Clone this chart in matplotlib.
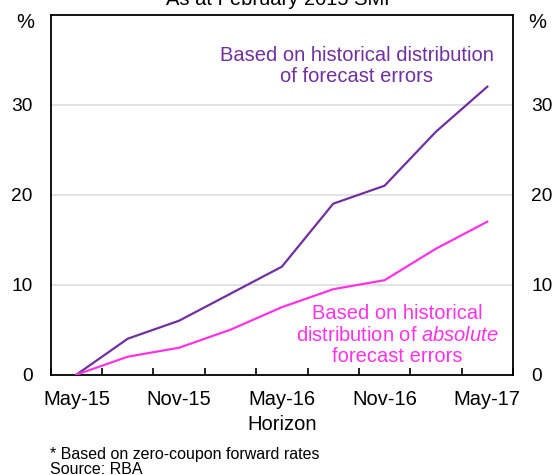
import numpy as np
import matplotlib.pyplot as plt

plt.rcParams['font.family'] = ['Liberation Sans', 'DejaVu Sans']
plt.rcParams['mathtext.fontset'] = 'custom'
plt.rcParams['mathtext.rm'] = 'Liberation Sans'
plt.rcParams['mathtext.it'] = 'Liberation Sans:italic'

# Data (quarterly horizon)
months = ['May-15', 'Aug-15', 'Nov-15', 'Feb-16', 'May-16', 'Aug-16', 'Nov-16', 'Feb-17', 'May-17']
forecast_err = [0, 4, 6, 9, 12, 19, 21, 27, 32]
abs_err = [0, 2, 3, 5, 7.5, 9.5, 10.5, 14, 17]
yticks = [0, 10, 20, 30]

purple = '#7030A0'
pink = '#FF33E6'
fs = 14.5

W, H = 557, 475
fig = plt.figure(figsize=(W / 100, H / 100), dpi=100)
ax = fig.add_axes([50.7 / W, 1 - 374.7 / H, (513 - 50.7) / W, 360 / H])

x = np.arange(len(months))
ax.plot(x, forecast_err, color=purple, lw=1.6, zorder=3)
ax.plot(x, abs_err, color=pink, lw=1.6, zorder=3)

ax.set_xlim(-0.5, len(months) - 0.5)
ax.set_ylim(0, 40)

# labels every other quarter, ticks at category boundaries
ax.set_xticks(x[::2])
ax.set_xticklabels(months[::2], fontsize=fs)
ax.set_xticks(np.arange(-0.5, len(months)), minor=True)
ax.tick_params(axis='x', which='major', length=0, pad=11)
ax.tick_params(axis='x', which='minor', direction='in', length=5, width=1.2)

ax.set_yticks(yticks)
ax.tick_params(axis='y', length=0, labelsize=13.8, pad=13,
               labelleft=True, labelright=True)
for t in yticks[1:]:
    ax.axhline(t, color='#DDDDDD', lw=1.2, zorder=1)

for s in ax.spines.values():
    s.set_linewidth(1.3)

ax.set_xlabel('Horizon', fontsize=fs, labelpad=4)

fig.text(25 / W, 1 - 23 / H, '%', fontsize=fs, ha='center', va='center')
fig.text(537 / W, 1 - 23 / H, '%', fontsize=fs, ha='center', va='center')
fig.text(282 / W, 1 - 5 / H, 'As at February 2015 SMP', fontsize=fs,
         ha='center', va='baseline')

ax.text(5.46, 34.3, 'Based on historical distribution\nof forecast errors',
        color=purple, fontsize=fs, ha='center', va='center', linespacing=1.17)
ax.text(6.25, 4.4, 'Based on historical\ndistribution of $\\mathit{absolute}$\nforecast errors',
        color=pink, fontsize=fs, ha='center', va='center', linespacing=1.15)

fig.text(50 / W, 1 - 454 / H, '* Based on zero-coupon forward rates',
         fontsize=11.5, ha='left', va='center')
fig.text(50 / W, 1 - 470 / H, 'Source: RBA', fontsize=11.5, ha='left', va='center')

fig.savefig('out.png', dpi=100)
